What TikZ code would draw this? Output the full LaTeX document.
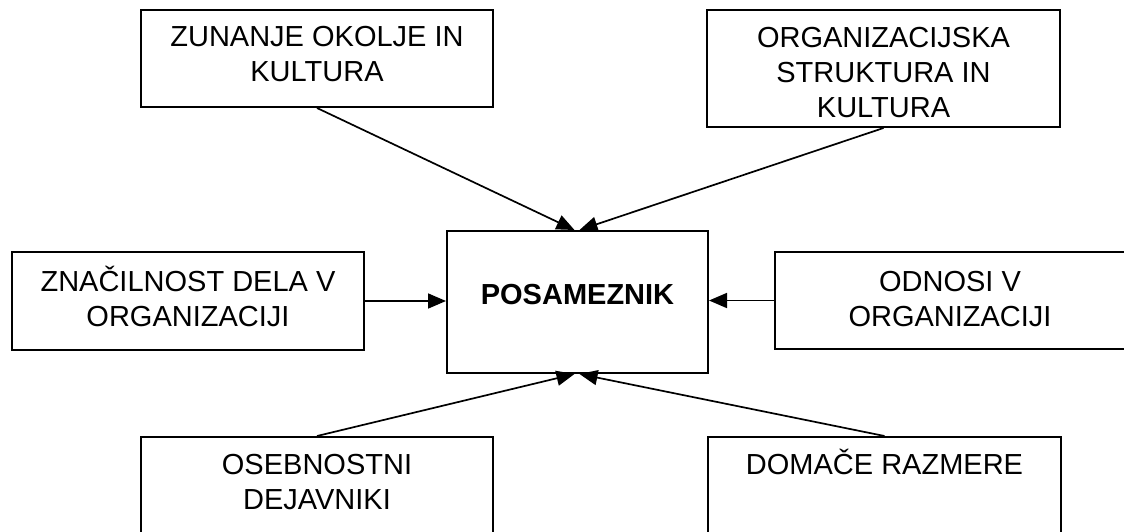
\documentclass[tikz,border=0pt]{standalone}
\usepackage{fontspec}
\setmainfont{Liberation Sans}
\usetikzlibrary{arrows.meta}
\begin{document}
\begin{tikzpicture}[x=1pt, y=-1pt,
  frame/.style={draw=black, line width=2pt, rectangle, inner sep=0pt},
  caption/.style={anchor=base, align=center, inner sep=0pt,
    font=\fontsize{29}{35}\selectfont},
  link/.style={line width=1.7pt, -{Triangle[length=18pt, width=15pt]}}]
  \useasboundingbox (0,0) rectangle (1124,531);
  \clip (0,0) rectangle (1124,531);

  % boxes
  \node[frame, minimum width=352pt, minimum height=97pt]  (ext)  at (317,58.5)   {};
  \node[frame, minimum width=353pt, minimum height=117pt] (org)  at (883.5,68.5) {};
  \node[frame, minimum width=352pt, minimum height=98pt]  (work) at (188,301)    {};
  \node[frame, minimum width=261pt, minimum height=142pt] (ind)  at (577.5,302)  {};
  \node[frame, minimum width=350pt, minimum height=97pt]  (rel)  at (950,300.5)  {};
  \node[frame, minimum width=352pt, minimum height=110pt] (pers) at (317,492)    {};
  \node[frame, minimum width=353pt, minimum height=110pt] (home) at (884.5,492)  {};

  % labels (base anchor sits on the last line of each label)
  \node[caption] (extT)  at ([yshift=-72pt]ext.north)   {ZUNANJE OKOLJE IN\\KULTURA};
  \node[caption] (orgT)  at ([yshift=-108pt]org.north)  {ORGANIZACIJSKA\\STRUKTURA IN\\KULTURA};
  \node[caption] (workT) at ([yshift=-75pt]work.north)  {ZNAČILNOST DELA V\\ORGANIZACIJI};
  \node[caption] (relT)  at ([yshift=-75pt]rel.north)   {ODNOSI V\\ORGANIZACIJI};
  \node[caption] (persT) at ([yshift=-73pt]pers.north)  {OSEBNOSTNI\\DEJAVNIKI};
  \node[caption] (homeT) at ([yshift=-38pt]home.north)  {DOMAČE RAZMERE};
  \node[caption, font=\fontsize{29}{35}\selectfont\bfseries] (indT) at ([yshift=-74pt]ind.north) {POSAMEZNIK};

  % influences on the individual
  \draw[link] (ext.south)  -- ([xshift=-3pt]ind.north);
  \draw[link] (org.south)  -- ([xshift=2pt]ind.north);
  \draw[link] (work.east)  -- (work.east -| ind.west);
  \draw[link] (rel.west)   -- (rel.west -| ind.east);
  \draw[link] (pers.north) -- ([xshift=-3pt]ind.south);
  \draw[link] (home.north) -- ([xshift=2pt]ind.south);
\end{tikzpicture}
\end{document}
